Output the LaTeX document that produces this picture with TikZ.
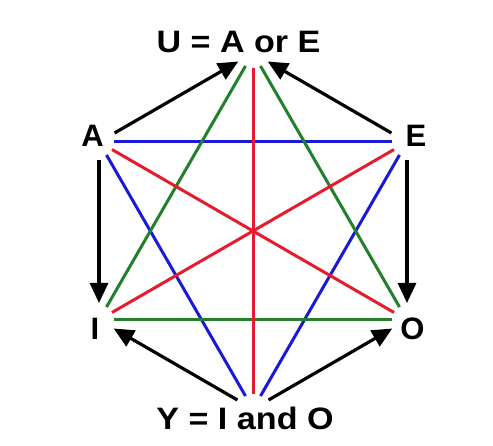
\documentclass[tikz,border=0pt]{standalone}
\usepackage{fontspec}
\setmainfont{Liberation Sans}
\usetikzlibrary{arrows.meta}
\definecolor{lred}{RGB}{228,28,45}
\definecolor{lblue}{RGB}{25,25,215}
\definecolor{lgreen}{RGB}{35,128,42}
\tikzset{
  chord/.style={line width=3pt, shorten <=15pt, shorten >=15pt},
  arr/.style={line width=3.2pt, shorten <=18pt, shorten >=17pt, -{Triangle[length=20pt,width=18pt]}},
  lbl/.style={inner sep=0pt, anchor=base, font=\bfseries\fontsize{31}{31}\selectfont},
}
\begin{document}
\begin{tikzpicture}[x=1pt,y=-1pt]
\fill[white] (0,0) rectangle (493,446);
\useasboundingbox (0,0) rectangle (493,446);
\coordinate (U) at (253,53);
\coordinate (A) at (99,142);
\coordinate (E) at (407,142);
\coordinate (I) at (99,320);
\coordinate (O) at (407,320);
\coordinate (Y) at (253,409);
% blue triangle
\draw[chord, lblue] (A) -- (E);
\draw[chord, lblue] (A) -- (Y);
\draw[chord, lblue] (E) -- (Y);
% green triangle
\draw[chord, lgreen] (I) -- (O);
\draw[chord, lgreen] (I) -- (U);
\draw[chord, lgreen] (O) -- (U);
% red diameters
\draw[chord, lred] (U) -- (Y);
\draw[chord, lred] (A) -- (O);
\draw[chord, lred] (E) -- (I);
% arrows
\draw[arr] (A) -- (U);
\draw[arr] (E) -- (U);
\draw[arr] (A) -- (I);
\draw[arr] (E) -- (O);
\draw[arr] (Y) -- (I);
\draw[arr] (Y) -- (O);
% labels
\node[lbl] (lU) at (238.5,53) {\scalebox{1.1}[1]{U = A or E}};
\node[lbl] (lY) at (245,429) {\scalebox{1.1}[1]{Y = I and O}};
\node[lbl] (lA) at (92.5,147) {A};
\node[lbl] (lE) at (416,147) {E};
\node[lbl] (lI) at (95,340) {I};
\node[lbl] (lO) at (412.5,340) {O};
\end{tikzpicture}
\end{document}
